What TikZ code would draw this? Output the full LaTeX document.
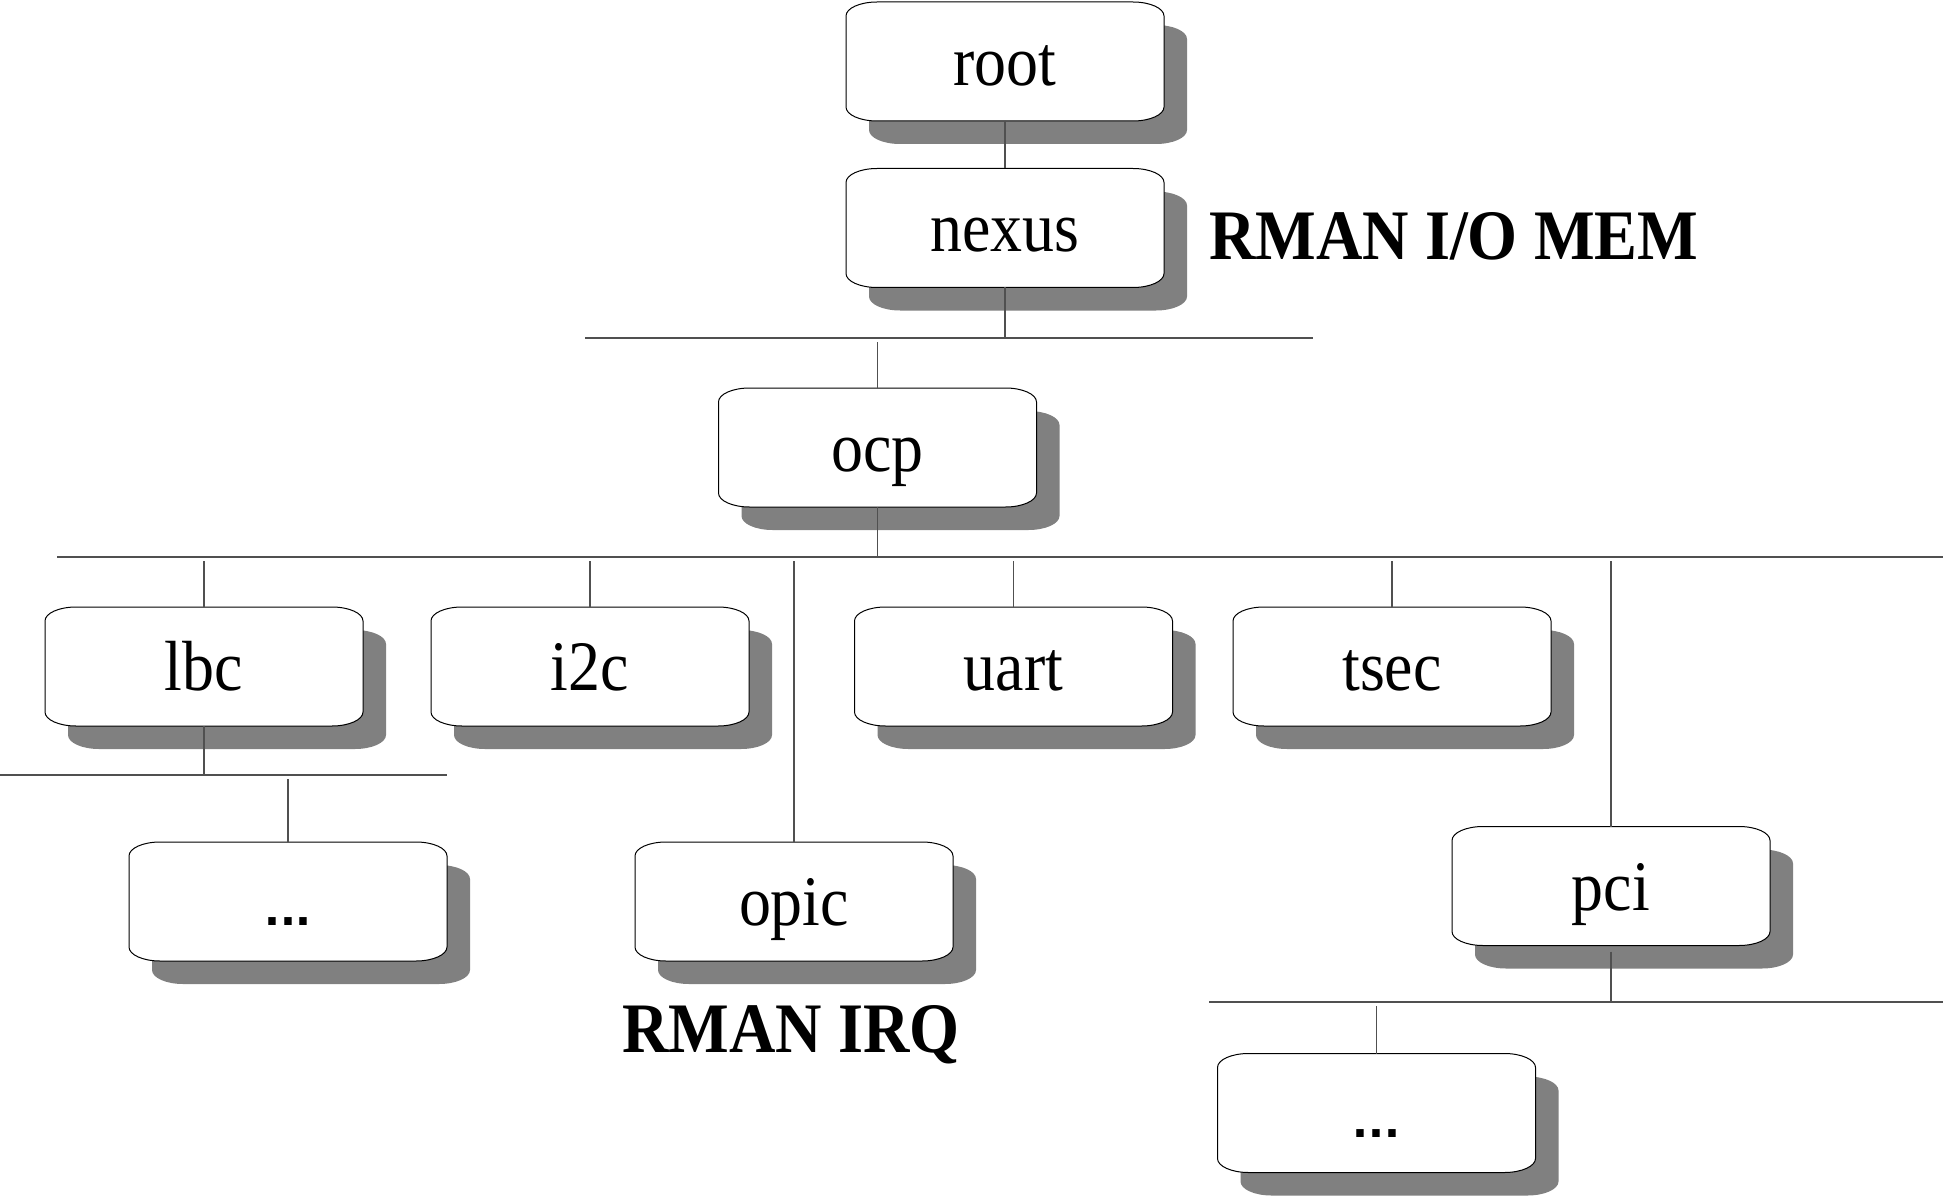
\documentclass[tikz,border=0pt]{standalone}
\usepackage{fontspec}
\usetikzlibrary{backgrounds}
\newfontfamily\boxfont[FakeStretch=0.9]{Liberation Serif}
\newfontfamily\lblfont[FakeStretch=0.905]{Liberation Serif}
\newfontfamily\dotfont{DejaVu Sans}
\definecolor{shadowgray}{HTML}{808080}
\definecolor{linegray}{HTML}{505050}
\newcommand\rrshape[3]{([shift={(#2,#3)}]#1.north west) ++(0pt,-14pt) -- ++(0pt,-91pt) arc[start angle=180,end angle=270,x radius=31pt,y radius=14pt] -- ++(256pt,0pt) arc[start angle=270,end angle=360,x radius=31pt,y radius=14pt] -- ++(0pt,91pt) arc[start angle=0,end angle=90,x radius=31pt,y radius=14pt] -- ++(-256pt,0pt) arc[start angle=90,end angle=180,x radius=31pt,y radius=14pt] -- cycle}
\newcommand\drawbox[1]{%
  \begin{pgfonlayer}{background}
    \fill[shadowgray] \rrshape{#1}{23pt}{-23pt};
    \filldraw[draw=black,fill=white,line width=1pt] \rrshape{#1}{0pt}{0pt};
  \end{pgfonlayer}}
\tikzset{
  rbox/.style={minimum width=318pt,minimum height=119pt,inner sep=0pt,outer sep=0pt,
    text height=48pt,text depth=0pt,font=\boxfont\fontsize{71}{80}\selectfont},
  dotsbox/.style={rbox,font=\dotfont\bfseries\fontsize{42}{50}\selectfont},
  lbl/.style={inner sep=0pt,font=\lblfont\bfseries\fontsize{71}{80}\selectfont},
  bus/.style={draw=linegray,line width=1.2pt},
  link/.style={draw=linegray,line width=1.2pt}
}
\begin{document}
\begin{tikzpicture}[x=1pt,y=-1pt]
\useasboundingbox (0,0) rectangle (1943,1198);

\node[rbox] (root) at (1005,61.5) {root}; \drawbox{root}
\node[rbox] (nexus) at (1005,228) {nexus}; \drawbox{nexus}
\node[rbox] (ocp) at (877.5,447.5) {ocp}; \drawbox{ocp}
\node[rbox] (lbc) at (204,666.5) {lbc}; \drawbox{lbc}
\node[rbox] (i2c) at (590,666.5) {i2c}; \drawbox{i2c}
\node[rbox] (uart) at (1013.5,666.5) {uart}; \drawbox{uart}
\node[rbox] (tsec) at (1392,666.5) {tsec}; \drawbox{tsec}
\node[dotsbox] (dotsa) at (288,901.5) {...}; \drawbox{dotsa}
\node[rbox] (opic) at (794,901.5) {opic}; \drawbox{opic}
\node[rbox] (pci) at (1611,886) {pci}; \drawbox{pci}
\node[dotsbox] (dotsb) at (1376.5,1113) {...}; \drawbox{dotsb}

\node[lbl,anchor=base west] (iomem) at (1209,260) {RMAN I/O MEM};
\node[lbl,anchor=base west] (irq) at (622,1052) {RMAN IRQ};

% buses
\coordinate (b0l) at (585,338);  \coordinate (b0r) at (1313,338);
\coordinate (b1l) at (57,557);   \coordinate (b1r) at (1943,557);
\coordinate (b2l) at (0,775);    \coordinate (b2r) at (447,775);
\coordinate (b3l) at (1209,1002); \coordinate (b3r) at (1943,1002);
\draw[bus] (b0l) -- (b0r);
\draw[bus] (b1l) -- (b1r);
\draw[bus] (b2l) -- (b2r);
\draw[bus] (b3l) -- (b3r);

% links
\draw[link] (root.south) -- (nexus.north);
\draw[link] (nexus.south) -- (nexus.south |- b0l);
\draw[link] ([yshift=-4pt]ocp.north |- b0l) -- (ocp.north);
\draw[link] (ocp.south) -- (ocp.south |- b1l);
\foreach \n in {lbc,i2c,uart,tsec,opic,pci}
  \draw[link] ([yshift=-4pt]\n.north |- b1l) -- (\n.north);
\draw[link] (lbc.south) -- (lbc.south |- b2l);
\draw[link] ([yshift=-4pt]dotsa.north |- b2l) -- (dotsa.north);
\draw[link] ([yshift=-6pt]pci.south) -- (pci.south |- b3l);
\draw[link] ([yshift=-4pt]dotsb.north |- b3l) -- (dotsb.north);
\end{tikzpicture}
\end{document}
